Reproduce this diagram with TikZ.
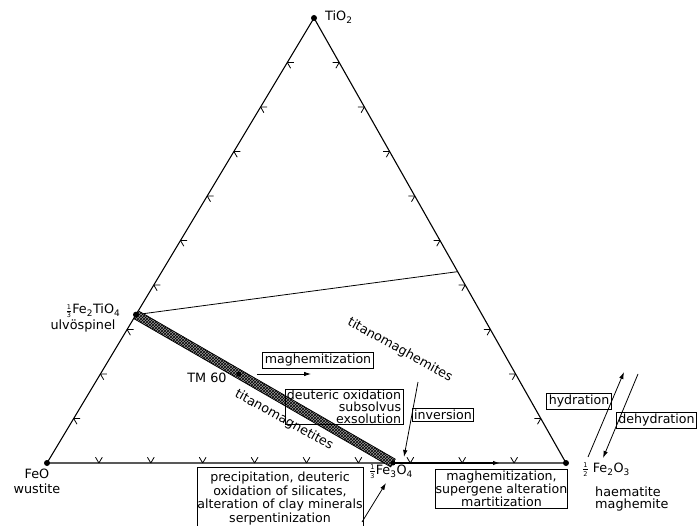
\documentclass[tikz,border=0pt]{standalone}
\usepackage{fontspec}
\setmainfont{DejaVu Sans}
\usetikzlibrary{arrows.meta,patterns,calc}
\newcommand{\chemfrac}[2]{$\frac{\mbox{\fontsize{6.5}{6.5}\selectfont #1}}{\mbox{\fontsize{6.5}{6.5}\selectfont #2}}$}

\begin{document}
\begin{tikzpicture}[x=1pt,y=-1pt,
  lbl/.style={font=\fontsize{12.8}{13.5}\selectfont, inner sep=1pt},
  box/.style={draw, line width=0.8pt, font=\fontsize{12.6}{13.5}\selectfont, inner xsep=2pt, inner ysep=2pt, align=center},
  arr/.style={-{Latex[length=7pt,width=4.5pt]}, line width=0.8pt},
  tick/.style={line width=0.8pt}]
\useasboundingbox (0,0) rectangle (700,526);
\coordinate (tio2) at (314,18);
\coordinate (feo) at (47,463);
\coordinate (fe2o3) at (566,463);
\coordinate (usp) at ($(feo)!1/3!(tio2)$);
\coordinate (mt) at ($(feo)!2/3!(fe2o3)$);
\coordinate (tm60) at ($(usp)!0.4!(mt)$);
\coordinate (rlim) at ($(fe2o3)!0.43!(tio2)$);
% ticks every tenth
\foreach \i in {1,...,9}{
  \path ($(feo)!\i/10!(fe2o3)$) coordinate (tb);
  \draw[tick] (tb) -- ++(3.4,-5.8) (tb) -- ++(-3.4,-5.8);
  \path ($(feo)!\i/10!(tio2)$) coordinate (tl);
  \draw[tick] (tl) -- ++(6.5,0) (tl) -- ++(3.3,5.7);
  \path ($(fe2o3)!\i/10!(tio2)$) coordinate (tr);
  \draw[tick] (tr) -- ++(-6.5,0) (tr) -- ++(-3.3,5.7);
}
\draw[line width=1.1pt] (feo) -- (tio2) -- (fe2o3) -- cycle;
\draw[line width=0.8pt] (usp) -- (rlim);
% titanomagnetite band
\coordinate (b1) at ($(usp)!4.5pt!90:(mt)$);
\coordinate (b2) at ($(usp)!4.5pt!-90:(mt)$);
\coordinate (b3) at ($(mt)!4.5pt!90:(usp)$);
\coordinate (b4) at ($(mt)!4.5pt!-90:(usp)$);
\draw[line width=0.7pt, preaction={fill=black!40}, pattern=crosshatch] (b1) -- (b4) -- (b3) -- (b2) -- cycle;
\fill (tio2) circle (3);
\fill (feo) circle (3);
\fill (fe2o3) circle (3);
\fill (usp) circle (3);
\fill (mt) circle (2.5);
\fill (tm60) circle (2.5);
% labels
\node[lbl, anchor=west] (ltio2) at (324,17) {TiO\textsubscript{2}};
\node[lbl] (lusp) at (93,311) {\chemfrac13Fe\textsubscript{2}TiO\textsubscript{4}};
\node[lbl] (lulv) at (83,326) {ulvöspinel};
\node[lbl] (lfeo) at (37,474) {FeO};
\node[lbl] (lwus) at (37,489) {wustite};
\node[lbl] (lmt) at (391,472) {\chemfrac13Fe\textsubscript{3}O\textsubscript{4}};
\node[lbl] (lhem) at (606,470) {\chemfrac12 Fe\textsubscript{2}O\textsubscript{3}};
\node[lbl, anchor=west] (lhae) at (594,492) {haematite};
\node[lbl, anchor=west] (lmgh) at (594,505) {maghemite};
\node[lbl] (ltm60) at (207,378) {TM 60};
\node[lbl, rotate=-29] (ltmh) at (400,350) {titanomaghemites};
\node[lbl, rotate=-29] (ltmg) at (284,420) {titanomagnetites};
% processes
\node[box] (bmag) at (318,360) {maghemitization};
\node[box, align=right, inner ysep=1pt, font=\fontsize{12.6}{12}\selectfont] (bdeu) at (344,407) {deuteric oxidation\\subsolvus\\exsolution};
\node[box] (binv) at (443,415) {inversion};
\node[box, anchor=north, inner xsep=0.5pt, minimum height=62pt] (bpre) at (280,467) {precipitation, deuteric\\oxidation of silicates,\\alteration of clay minerals\\serpentinization};
\node[box, inner xsep=0.5pt, font=\fontsize{12.6}{13}\selectfont] (bsup) at (501.5,489) {maghemitization,\\supergene alteration\\martitization};
\node[box] (bhyd) at (579,401) {hydration};
\node[box] (bdeh) at (656.5,420) {dehydration};
% arrows
\coordinate (m1) at (257,374);
\coordinate (m2) at (311,374);
\draw[arr] (m1) -- (m2);
\coordinate (i1) at (418,382);
\coordinate (i2) at (404,457);
\draw[arr] (i1) -- (i2);
\coordinate (p1) at (362,522);
\coordinate (p2) at (386,483);
\draw[arr] (p1) -- (p2);
\coordinate (s2) at (500,463);
\draw[arr, line width=1.3pt] (mt) -- (s2);
\coordinate (h1) at (588,457);
\coordinate (h2) at (624,372);
\draw[arr] (h1) -- (h2);
\coordinate (d1) at (638,374);
\coordinate (d2) at (603,458);
\draw[arr] (d1) -- (d2);
\end{tikzpicture}
\end{document}
